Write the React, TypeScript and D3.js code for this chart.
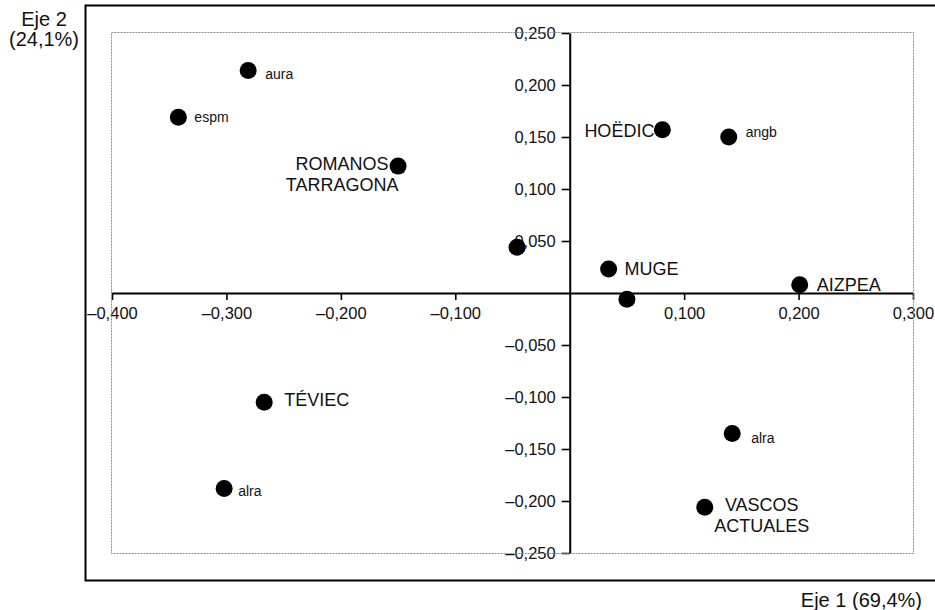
import React, { useEffect, useRef } from "react";
import * as d3 from "d3";

// ---- data ----
const pointLabels: string[] = [
  "aura",
  "espm",
  "ROMANOS\nTARRAGONA",
  "",
  "HOËDIC",
  "angb",
  "MUGE",
  "",
  "AIZPEA",
  "TÉVIEC",
  "alra",
  "alra",
  "VASCOS\nACTUALES",
];
const eje1: number[] = [-0.281, -0.342, -0.15, -0.046, 0.081, 0.139, 0.034, 0.05, 0.201, -0.267, -0.302, 0.142, 0.118];
const eje2: number[] = [0.214, 0.169, 0.122, 0.044, 0.157, 0.15, 0.023, -0.006, 0.008, -0.105, -0.188, -0.135, -0.206];
const xTicks: number[] = [-0.4, -0.3, -0.2, -0.1, 0.1, 0.2, 0.3];
const yTicks: number[] = [0.25, 0.2, 0.15, 0.1, 0.05, -0.05, -0.1, -0.15, -0.2, -0.25];
const xDomain: number[] = [-0.4, 0.3];
const yDomain: number[] = [-0.25, 0.25];
const xTitle = "Eje 1 (69,4%)";
const yTitle: string[] = ["Eje 2", "(24,1%)"];

// ---- label placement (presentation only) ----
type Place = { anchor: "start" | "end" | "middle"; dx: number; dy: number; small: boolean };
const labelPlace: Place[] = [
  { anchor: "start", dx: 17, dy: 9, small: true },
  { anchor: "start", dx: 16, dy: 4.5, small: true },
  { anchor: "middle", dx: -56, dy: 4, small: false },
  { anchor: "start", dx: 0, dy: 0, small: true },
  { anchor: "end", dx: -8, dy: 7, small: false },
  { anchor: "start", dx: 17, dy: 0, small: true },
  { anchor: "start", dx: 16, dy: 6, small: false },
  { anchor: "start", dx: 0, dy: 0, small: true },
  { anchor: "start", dx: 17, dy: 6, small: false },
  { anchor: "start", dx: 20, dy: 4, small: false },
  { anchor: "start", dx: 14, dy: 7, small: true },
  { anchor: "start", dx: 19, dy: 10, small: true },
  { anchor: "middle", dx: 57, dy: 4, small: false },
];

const W = 935;
const H = 610;
const FONT = "'Liberation Sans', Arial, Helvetica, sans-serif";

const locale = d3.formatLocale({
  decimal: ",",
  thousands: ".",
  grouping: [3],
  currency: ["", ""],
  minus: "–",
});
const fmt = locale.format(".3f");

export default function App() {
  const xAxisRef = useRef<SVGGElement>(null);
  const yAxisRef = useRef<SVGGElement>(null);

  const x = d3.scaleLinear().domain(xDomain).range([112, 913]);
  const y = d3.scaleLinear().domain(yDomain).range([553, 33]);

  useEffect(() => {
    const gx = d3.select(xAxisRef.current!);
    gx.call(
      d3
        .axisBottom(x)
        .tickValues(xTicks)
        .tickSize(7)
        .tickSizeOuter(0)
        .tickPadding(7)
        .tickFormat((d) => fmt(d as number))
    );
    gx.select(".domain").attr("stroke", "#000").attr("stroke-width", 2);
    gx.selectAll(".tick line").attr("stroke", "#000").attr("stroke-width", 1.6);
    gx.selectAll(".tick text")
      .attr("fill", "#111")
      .attr("font-size", 16.5)
      .attr("font-family", FONT);

    const gy = d3.select(yAxisRef.current!);
    gy.call(
      d3
        .axisLeft(y)
        .tickValues(yTicks)
        .tickSize(8)
        .tickSizeOuter(0)
        .tickPadding(6)
        .tickFormat((d) => fmt(d as number))
    );
    gy.select(".domain").attr("stroke", "#000").attr("stroke-width", 2);
    gy.selectAll(".tick line").attr("stroke", "#000").attr("stroke-width", 1.6);
    gy.selectAll(".tick text")
      .attr("fill", "#111")
      .attr("font-size", 16.5)
      .attr("font-family", FONT);
  });

  const x0 = x(0);
  const y0 = y(0);

  return (
    <svg
      width={W}
      height={H}
      viewBox={`0 0 ${W} ${H}`}
      style={{ position: "absolute", left: 0, top: 0, background: "#fff" }}
      fontFamily={FONT}
    >
      <rect x={0} y={0} width={W} height={H} fill="#fff" />
      {/* outer frame */}
      <path d={`M${W + 5},5.5 H85.5 V580.5 H${W + 5}`} fill="none" stroke="#000" strokeWidth={2} />
      {/* axes */}
      <g ref={xAxisRef} transform={`translate(0,${y0})`} />
      <g ref={yAxisRef} transform={`translate(${x0},0)`} />
      {/* inner plot frame (dotted grey) */}
      <rect
        x={x(xDomain[0]) - 0.5}
        y={y(yDomain[1]) - 0.5}
        width={x(xDomain[1]) - x(xDomain[0]) + 1}
        height={y(yDomain[0]) - y(yDomain[1]) + 1}
        fill="none"
        stroke="#8a8a8a"
        strokeWidth={1}
        strokeDasharray="2,1"
      />
      {/* points */}
      {eje1.map((v, i) => (
        <circle key={"c" + i} cx={x(v)} cy={y(eje2[i])} r={8.5} fill="#000" />
      ))}
      {/* labels */}
      {pointLabels.map((lab, i) => {
        if (!lab) return null;
        const p = labelPlace[i];
        const lines = lab.split("\n");
        const fs = p.small ? 14 : 18;
        return (
          <g key={"t" + i}>
            {lines.map((ln, j) => (
              <text
                key={j}
                x={x(eje1[i]) + p.dx}
                y={y(eje2[i]) + p.dy + j * 20.5}
                textAnchor={p.anchor}
                fontSize={fs}
                fill="#111"
              >
                {ln}
              </text>
            ))}
          </g>
        );
      })}
      {/* axis titles */}
      <text x={44} y={26} textAnchor="middle" fontSize={20} fill="#111">
        {yTitle[0]}
      </text>
      <text x={44} y={46} textAnchor="middle" fontSize={20} fill="#111">
        {yTitle[1]}
      </text>
      <text x={922} y={607} textAnchor="end" fontSize={20} fill="#111">
        {xTitle}
      </text>
    </svg>
  );
}
